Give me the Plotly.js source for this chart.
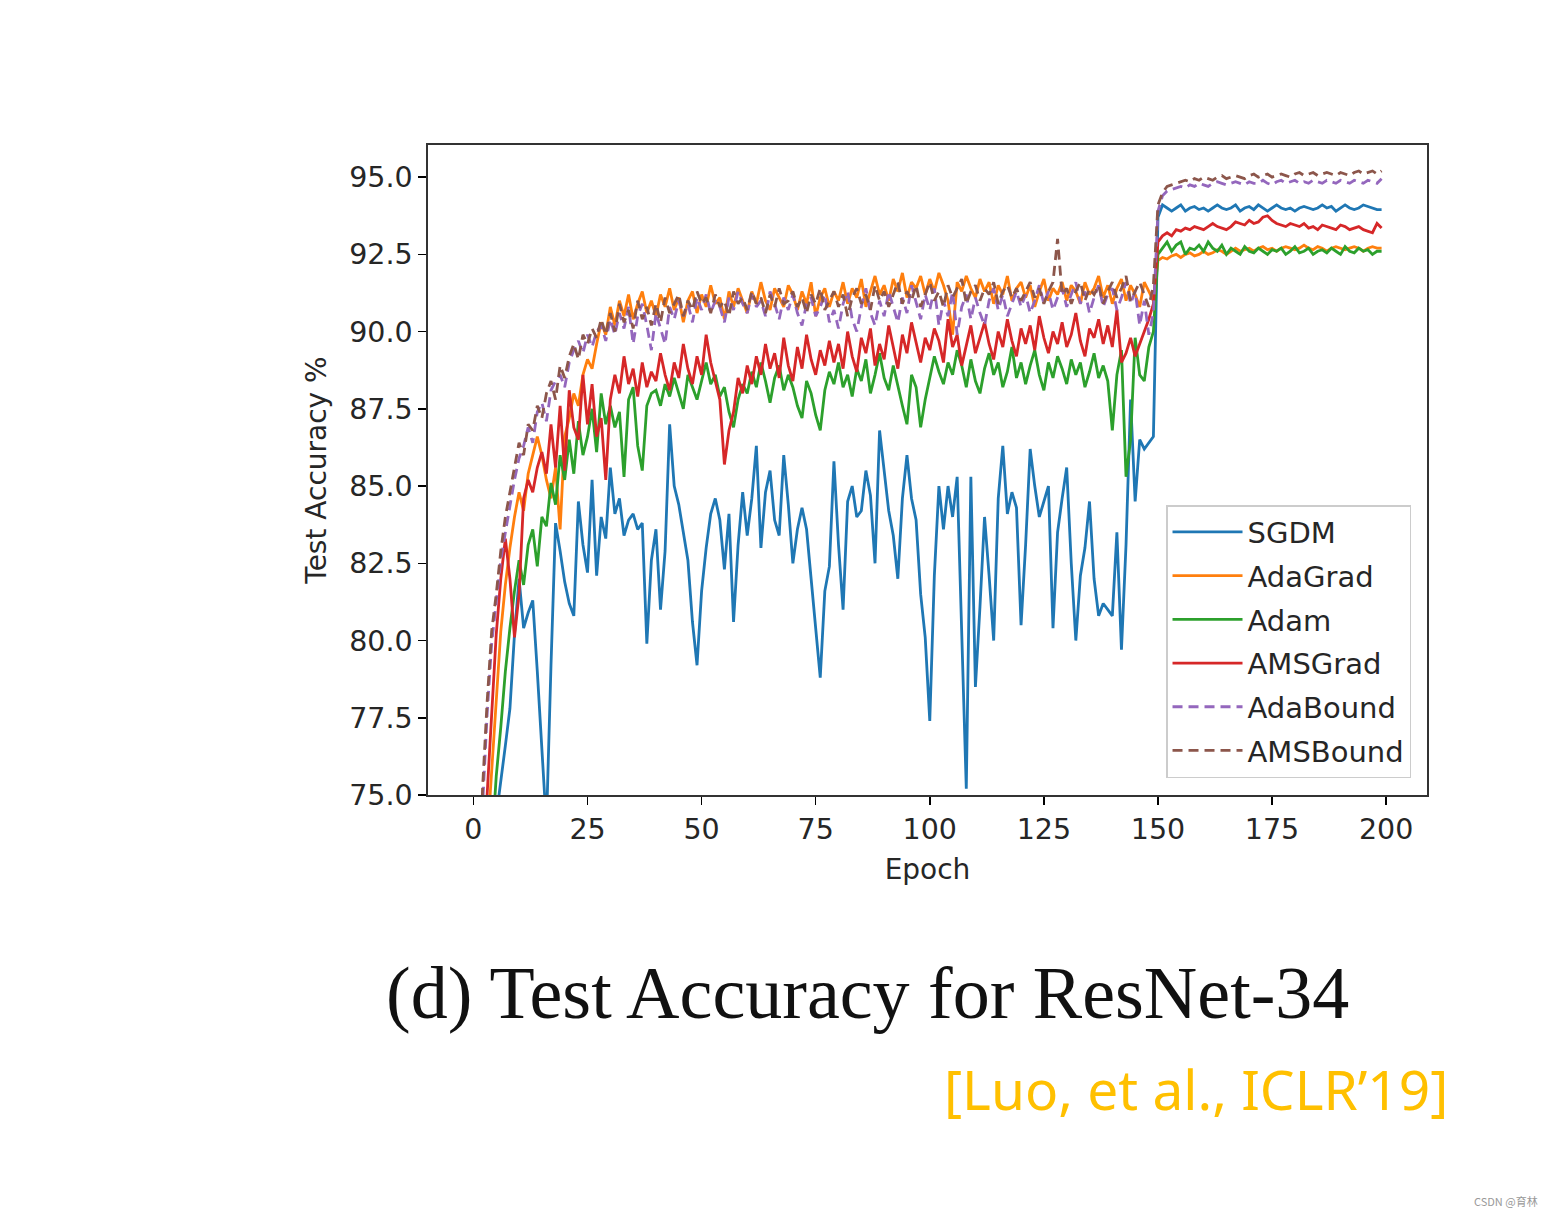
<!DOCTYPE html>
<html>
<head>
<meta charset="utf-8">
<script src="https://cdn.plot.ly/plotly-3.0.1.min.js"></script>
<style>
  html, body { margin: 0; padding: 0; background: #ffffff; }
  #chart { width: 1555px; height: 1217px; }
</style>
</head>
<body>
<div id="chart"></div>
<script>
// ---- Data ----
const seriesNames = ["SGDM", "AdaGrad", "Adam", "AMSGrad", "AdaBound", "AMSBound"];
const xTickVals = [0, 25, 50, 75, 100, 125, 150, 175, 200];
const yTickVals = [75.0, 77.5, 80.0, 82.5, 85.0, 87.5, 90.0, 92.5, 95.0];

const sgdm = [
  50.0, 62.0, 68.0, 71.0, 73.0, 74.3, 75.4, 76.6, 77.8, 80.2,
  82.0, 80.4, 80.9, 81.3, 79.0, 76.2, 74.0, 79.2, 83.8, 82.9,
  81.9, 81.2, 80.8, 84.5, 83.1, 82.2, 85.2, 82.1, 84.0, 83.3,
  85.6, 84.1, 84.6, 83.4, 83.9, 84.1, 83.6, 83.8, 79.9, 82.6,
  83.6, 81.0, 82.9, 87.0, 85.0, 84.4, 83.5, 82.6, 80.6, 79.2,
  81.6, 83.0, 84.1, 84.6, 83.9, 82.3, 84.1, 80.6, 83.1, 84.8,
  83.4, 84.6, 86.3, 83.0, 84.8, 85.5, 83.9, 83.4, 86.0, 84.4,
  82.5, 83.6, 84.3, 83.6, 82.0, 80.4, 78.8, 81.6, 82.4, 85.8,
  83.1, 81.0, 84.5, 85.0, 84.0, 84.2, 85.5, 84.7, 82.5, 86.8,
  85.5, 84.2, 83.4, 82.0, 84.6, 86.0, 84.6, 83.9, 81.5, 80.1,
  77.4, 82.1, 85.0, 83.6, 85.0, 84.0, 85.3, 80.5, 75.2, 85.3,
  78.5, 81.1, 84.0, 82.1, 80.0, 84.6, 86.3, 84.1, 84.8, 84.3,
  80.5, 83.1, 86.2, 85.0, 84.0, 84.5, 85.0, 80.4, 83.5, 84.6,
  85.6, 82.5, 80.0, 82.1, 83.0, 84.5, 82.0, 80.8, 81.2, 81.0,
  80.8, 83.5, 79.7, 83.1, 87.8, 84.5, 86.5, 86.2, 86.4, 86.6,
  93.7, 94.1, 94.0, 93.9, 94.0, 94.1, 93.9, 94.0, 94.05, 93.95,
  94.0, 93.9, 94.0, 94.1, 94.0, 93.95, 94.0, 94.1, 93.9, 94.0,
  94.05, 93.95, 94.1, 94.0, 93.9, 94.0, 94.1, 94.0, 93.95, 94.0,
  93.9, 94.0, 94.05, 94.0, 93.95, 94.0, 94.1, 94.0, 94.05, 93.9,
  94.0, 94.1, 94.0, 93.95, 94.0, 94.1, 94.05, 94.0, 93.95, 93.95
];

const adagrad = [
  60.0, 67.0, 71.0, 73.5, 75.8, 78.2, 80.3, 81.8, 83.0, 84.0,
  84.8, 84.2, 85.4, 86.0, 86.6, 86.0, 85.2, 84.6, 85.6, 83.6,
  86.6, 87.2, 88.0, 87.6, 88.6, 89.1, 88.8, 89.6, 90.3, 89.9,
  90.8, 90.2, 91.0, 90.5, 91.2, 90.4, 90.9, 91.3, 90.6, 91.0,
  90.5, 91.2, 90.8, 91.4, 90.7, 91.1, 90.3, 91.0, 91.3, 90.6,
  91.2, 90.8, 91.5, 90.9, 91.1, 90.4, 91.3, 90.8, 91.4, 91.0,
  90.6, 91.3, 90.9, 91.6, 91.0, 90.7, 91.4, 91.1, 90.8, 91.5,
  91.2, 90.7, 91.3, 90.9, 91.6, 90.5, 91.1, 91.4, 90.8, 91.3,
  91.0, 91.6, 90.9, 91.4, 91.1, 91.7, 90.8, 91.3, 91.8, 91.2,
  91.5, 91.0, 91.7, 91.3, 91.9, 91.1, 91.6, 91.4, 91.8, 91.2,
  91.7, 91.3, 91.9, 91.5, 91.0, 89.9, 91.6, 91.3, 91.8, 91.4,
  91.1, 91.7, 91.3, 91.6, 90.9, 91.5, 91.2, 91.8, 91.0, 91.4,
  91.6, 91.1, 91.5, 90.8, 91.3, 91.7, 91.0, 91.4, 91.2, 91.6,
  91.0, 91.5, 91.3, 90.9, 91.6, 91.2, 91.4, 91.8, 91.1, 91.5,
  90.9, 91.4, 91.7, 91.0, 91.5, 91.2, 90.8, 91.6, 91.3, 91.0,
  92.3, 92.4, 92.35, 92.45, 92.5, 92.4, 92.5, 92.55, 92.45, 92.5,
  92.6, 92.5, 92.55, 92.65, 92.6, 92.5, 92.6, 92.7, 92.6, 92.65,
  92.7, 92.6, 92.7, 92.75, 92.65, 92.7, 92.6, 92.7, 92.75, 92.7,
  92.65, 92.7, 92.8, 92.7, 92.65, 92.75, 92.7, 92.6, 92.7, 92.75,
  92.7, 92.65, 92.7, 92.75, 92.7, 92.6, 92.7, 92.75, 92.7, 92.7
];

const adam = [
  55.0, 63.0, 68.0, 71.0, 73.5, 75.6, 77.2, 79.0, 80.4, 81.6,
  82.6, 81.8, 83.1, 83.6, 82.4, 84.0, 83.7, 85.1, 84.4, 86.0,
  85.2, 86.5, 85.4, 87.1, 86.0, 86.6, 87.5, 86.1, 88.0, 87.0,
  87.6, 86.9, 87.4, 85.3, 87.8, 88.2, 86.3, 85.5, 87.6, 88.0,
  88.1, 87.6, 88.3, 87.9, 88.5, 88.0, 87.5, 88.6, 88.2, 87.8,
  88.4, 89.0, 88.3, 88.6, 87.9, 88.2, 87.4, 86.9, 87.8, 88.3,
  88.0, 88.7, 88.2, 89.0, 88.4, 87.7, 88.5, 88.9, 88.1, 88.6,
  88.2, 87.6, 87.2, 88.4, 88.0, 87.3, 86.8, 88.1, 88.7, 88.3,
  89.0, 88.2, 88.6, 87.9, 88.8, 88.4, 89.1, 88.0, 88.6, 89.3,
  88.5, 88.1, 88.9, 88.3, 87.6, 87.0, 88.6, 88.2, 86.9, 87.8,
  88.5, 89.2, 88.7, 88.3, 89.0, 88.6, 89.4, 88.9, 88.2, 89.1,
  88.4, 88.0, 88.8, 89.3, 88.6, 89.0, 88.2, 88.7, 89.5, 88.5,
  89.0, 88.3, 88.9, 89.4, 88.6, 88.1, 89.0, 88.5, 89.2, 88.8,
  88.3, 89.1, 88.6, 89.0, 88.2, 88.7, 89.3, 88.5, 88.9, 88.4,
  86.8, 88.6, 89.4, 85.3, 86.5, 89.8, 88.6, 88.4, 89.5, 90.0,
  92.5, 92.7, 92.9, 92.6, 92.8, 92.9, 92.5, 92.7, 92.65, 92.8,
  92.6, 92.9, 92.7, 92.6, 92.8, 92.5, 92.7, 92.6, 92.5, 92.75,
  92.6, 92.55, 92.7, 92.6, 92.5, 92.65, 92.6, 92.7, 92.5, 92.6,
  92.75, 92.55, 92.6, 92.7, 92.5, 92.6, 92.65, 92.55, 92.7, 92.6,
  92.5, 92.75, 92.6, 92.55, 92.7, 92.6, 92.65, 92.5, 92.6, 92.6
];

const amsgrad = [
  58.0, 66.0, 71.0, 75.0, 77.6, 80.2, 82.0, 83.3, 82.0, 80.1,
  81.5, 84.6, 85.2, 84.8, 85.6, 86.1, 85.4, 87.0, 85.6, 87.6,
  85.5, 88.1, 86.9, 86.5, 88.6, 87.0, 88.3, 86.6, 87.2, 85.2,
  87.8, 88.6, 88.0, 89.2, 88.3, 88.8, 87.9, 89.0, 88.2, 88.7,
  88.4, 89.3, 88.6, 88.1, 89.0, 88.5, 89.6, 88.8, 88.3, 89.2,
  88.6, 89.9, 89.0, 88.4, 87.8, 85.7, 86.8, 87.4, 88.5, 88.0,
  88.9, 88.3, 89.2, 88.6, 89.6, 88.8, 89.3, 88.5, 89.8, 88.9,
  88.4, 89.5, 88.8, 89.9, 89.1, 88.6, 89.4, 88.9, 89.7, 89.0,
  89.6, 88.8, 90.0, 89.2, 88.7, 89.8, 89.3, 90.1, 88.9, 89.6,
  89.1, 90.2, 89.5, 88.8, 89.9, 89.3, 90.3, 89.6, 89.0, 89.8,
  89.4, 90.1, 89.7, 89.0, 90.4, 89.5, 89.9, 88.9, 89.6, 90.2,
  89.3, 89.8, 90.3, 89.6, 89.1, 90.0, 89.5, 90.4, 89.7, 89.2,
  90.1, 89.6, 90.2, 89.4, 90.5, 89.8, 89.3, 90.0, 89.6, 90.3,
  89.5, 89.9, 90.6, 89.7, 89.2, 90.1, 89.8, 90.4, 89.6, 90.2,
  89.5, 90.7, 89.0, 89.3, 89.8, 89.2, 89.6, 90.0, 90.4, 90.9,
  92.9, 93.1, 93.2, 93.1, 93.3, 93.25, 93.35, 93.3, 93.4, 93.35,
  93.3, 93.4, 93.5, 93.4, 93.35, 93.3, 93.4, 93.55, 93.5, 93.45,
  93.6, 93.5, 93.55, 93.7, 93.75, 93.6, 93.5, 93.45, 93.4, 93.5,
  93.45, 93.4, 93.5, 93.35, 93.4, 93.3, 93.45, 93.4, 93.35, 93.3,
  93.45, 93.4, 93.3, 93.35, 93.4, 93.3, 93.25, 93.2, 93.5, 93.35
];

const adabound = [
  62.0, 69.0, 74.6, 77.6, 79.9, 81.2, 82.6, 83.5, 84.4, 85.2,
  85.9, 86.3, 86.9, 86.4, 87.4, 87.7, 87.1, 88.1, 88.4, 88.6,
  88.2, 89.0, 89.4, 89.7, 89.3, 89.9, 89.5, 90.0, 90.2, 89.7,
  90.4, 89.9, 90.6, 90.1, 90.8, 89.6, 90.5, 90.9, 90.2, 89.4,
  90.6, 90.1, 89.6, 90.8, 90.4, 91.0, 90.5, 90.9, 90.3, 91.1,
  90.7, 91.2, 90.6, 91.0, 90.8, 90.3, 91.1, 90.7, 91.3, 90.9,
  90.6, 91.2, 90.8, 91.0, 90.5, 91.3, 90.9, 90.4, 91.1, 90.7,
  91.2, 90.6, 90.2, 90.9, 91.1, 90.5, 90.8, 91.2, 90.3, 90.7,
  90.1, 90.9, 91.3, 90.4, 90.0, 90.8, 91.4, 90.6, 90.2, 91.0,
  90.5, 91.3, 90.8, 90.3, 91.1, 90.6, 91.5, 90.9, 90.4, 91.2,
  90.7, 91.4, 90.2, 91.0, 90.5, 91.3, 89.9, 90.8, 91.2, 90.4,
  91.1, 90.6, 90.2, 91.0, 91.4, 90.7, 91.2, 90.5, 90.9, 91.3,
  90.8, 91.2, 90.6, 91.0, 91.5, 90.9, 91.3, 90.7, 91.1, 91.4,
  90.8, 91.2, 91.6, 90.9, 91.3, 90.6, 91.1, 91.5, 90.8, 91.2,
  91.4, 90.7, 91.1, 91.6, 90.9, 91.3, 90.2, 91.0, 89.9, 90.6,
  93.9, 94.4, 94.55, 94.6, 94.65, 94.7, 94.65, 94.75, 94.7, 94.8,
  94.75, 94.7, 94.8, 94.85, 94.8, 94.75, 94.8, 94.85, 94.8, 94.75,
  94.85, 94.8, 94.8, 94.9, 94.8, 94.75, 94.85, 94.9, 94.8, 94.85,
  94.9, 94.8, 94.85, 94.8, 94.9, 94.85, 94.8, 94.9, 94.85, 94.8,
  94.9, 94.85, 94.8, 94.9, 94.85, 94.8, 94.9, 94.85, 94.8, 94.95
];

const amsbound = [
  63.0, 70.0, 75.2, 78.0, 80.3, 81.5, 82.9, 84.0, 84.8, 85.6,
  86.4, 86.0, 87.0, 86.8, 87.6, 87.2, 88.0, 88.4, 87.8, 88.9,
  88.5, 89.2, 89.6, 89.1, 89.9, 89.6, 90.1, 89.8, 90.4, 89.9,
  90.6, 90.0, 90.9, 90.3, 90.7, 90.1, 91.0, 90.4, 90.8, 90.2,
  90.9, 90.3, 91.1, 90.6, 90.9, 91.2, 90.5, 91.0, 90.7, 91.3,
  90.9, 91.1, 90.6, 91.2, 90.8, 91.0, 90.5, 91.3, 90.9, 91.1,
  90.7, 91.3, 90.9, 91.1, 90.6, 91.2, 90.8, 91.4, 90.9, 91.0,
  91.3, 90.8, 91.1, 90.6, 91.2, 90.9, 91.4, 90.7, 91.0, 91.3,
  90.8, 91.2, 90.5, 91.1, 91.4, 90.9, 91.2, 90.7, 91.5, 91.0,
  91.3, 90.8, 91.2, 91.6, 90.9, 91.3, 91.0, 91.5, 90.8, 91.2,
  91.6, 91.0, 91.3, 90.8, 91.5, 91.1, 91.4, 91.7, 90.9, 91.3,
  91.5, 91.0, 91.4, 91.2, 91.6, 90.9, 91.3, 91.5, 91.1, 91.4,
  91.0, 91.3, 91.6, 91.1, 91.4, 90.9, 91.3, 91.6, 93.0, 91.2,
  91.4, 90.9, 91.3, 91.6, 91.0, 91.4, 91.2, 91.5, 90.9, 91.3,
  91.6, 91.1, 91.4, 91.8, 91.0, 91.3, 91.6, 91.2, 90.8, 91.5,
  94.1, 94.5, 94.7, 94.75, 94.8, 94.85, 94.9, 94.85, 94.95, 94.9,
  95.0, 94.95, 94.9, 95.0, 95.05, 94.95, 95.0, 95.05, 95.0, 94.95,
  95.05, 95.1, 95.0, 95.05, 95.1, 95.0, 95.05, 95.1, 95.05, 95.0,
  95.1, 95.15, 95.05, 95.1, 95.15, 95.05, 95.1, 95.15, 95.1, 95.05,
  95.15, 95.1, 95.05, 95.15, 95.2, 95.1, 95.15, 95.2, 95.1, 95.2
];

const epochs = sgdm.map((_, i) => i);
const allSeries = [sgdm, adagrad, adam, amsgrad, adabound, amsbound];

// ---- Styling ----
const colors = ["#1f77b4", "#ff7f0e", "#2ca02c", "#d62728", "#9467bd", "#8c564b"];
const dashes = ["solid", "solid", "solid", "solid", "10px,6px", "10px,6px"];
const FONT = "DejaVu Sans, sans-serif";
const TEXTC = "#262626";

const traces = allSeries.map((ys, k) => ({
  type: "scatter",
  mode: "lines",
  x: epochs,
  y: ys,
  name: seriesNames[k],
  legendgroup: "g" + k,
  line: { color: colors[k], width: 2.8, dash: dashes[k] }
}));

const layout = {
  width: 1555,
  height: 1217,
  margin: { l: 428, r: 128, t: 145, b: 422 },
  paper_bgcolor: "#ffffff",
  plot_bgcolor: "#ffffff",
  showlegend: true,
  font: { family: FONT, size: 28, color: TEXTC },
  xaxis: {
    range: [-9.95, 208.95],
    tickmode: "array",
    tickvals: xTickVals,
    ticktext: xTickVals.map(String),
    ticks: "outside",
    ticklen: 8,
    tickwidth: 1.5,
    tickcolor: "#000",
    showline: true,
    linecolor: "#333",
    linewidth: 1.6,
    mirror: true,
    showgrid: false,
    zeroline: false,
    tickfont: { family: FONT, size: 28.5, color: TEXTC },
    title: { text: "Epoch", font: { family: FONT, size: 28, color: TEXTC }, standoff: 14 }
  },
  yaxis: {
    range: [75.0, 96.04],
    tickmode: "array",
    tickvals: yTickVals,
    ticktext: yTickVals.map(v => v.toFixed(1)),
    ticks: "outside",
    ticklen: 8,
    tickwidth: 1.5,
    tickcolor: "#000",
    showline: true,
    linecolor: "#333",
    linewidth: 1.6,
    mirror: true,
    showgrid: false,
    zeroline: false,
    tickfont: { family: FONT, size: 28.5, color: TEXTC },
    title: { text: "Test Accuracy %", font: { family: FONT, size: 28, color: TEXTC }, standoff: 14 }
  },
  legend: {
    x: 0.984,
    y: 0.026,
    xanchor: "right",
    yanchor: "bottom",
    bgcolor: "rgba(255,255,255,0.85)",
    bordercolor: "#cccccc",
    borderwidth: 1.5,
    font: { family: FONT, size: 29, color: TEXTC },
    traceorder: "grouped",
    tracegroupgap: 3,
    itemwidth: 70
  },
  annotations: [
    {
      text: "(d) Test Accuracy for ResNet-34",
      xref: "paper", yref: "paper",
      x: 0.4404, y: -0.3046,
      xanchor: "center", yanchor: "middle",
      showarrow: false,
      font: { family: "Liberation Serif, Times New Roman, serif", size: 74, color: "#111111" }
    },
    {
      text: "[Luo, et al., ICLR’19]",
      xref: "paper", yref: "paper",
      x: 1.023, y: -0.4508,
      xanchor: "right", yanchor: "middle",
      showarrow: false,
      font: { family: "Noto Sans, Open Sans, sans-serif", size: 55, color: "#FFC000" }
    },
    {
      text: "CSDN @育林",
      xref: "paper", yref: "paper",
      x: 1.113, y: -0.6246,
      xanchor: "right", yanchor: "middle",
      showarrow: false,
      font: { family: "Noto Sans CJK SC, Noto Sans, sans-serif", size: 11, color: "#999999" }
    }
  ]
};

Plotly.newPlot("chart", traces, layout, { displayModeBar: false, staticPlot: true });
</script>
</body>
</html>
